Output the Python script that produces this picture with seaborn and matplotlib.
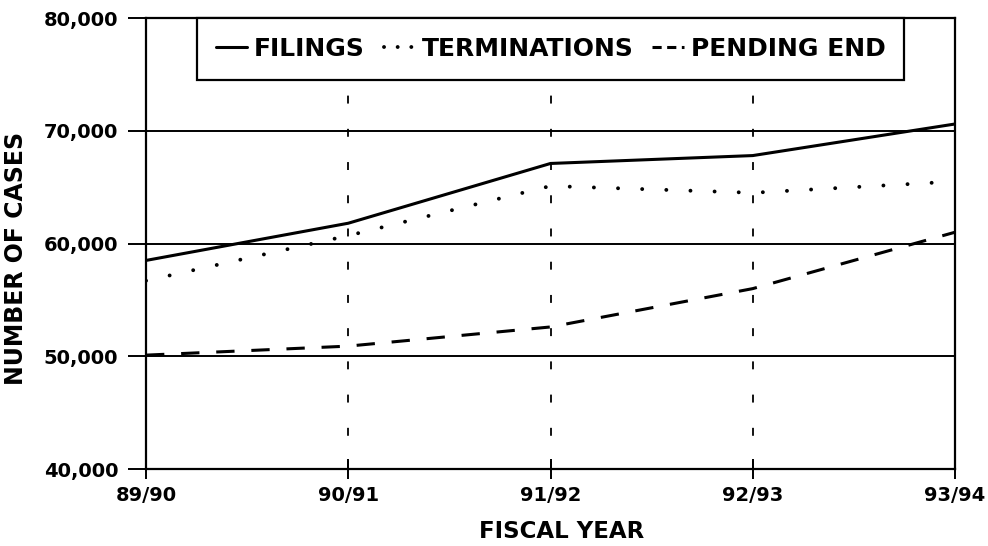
import matplotlib
matplotlib.use("Agg")
import matplotlib.pyplot as plt
import seaborn as sns
import pandas as pd
from matplotlib.lines import Line2D

years = ["89/90", "90/91", "91/92", "92/93", "93/94"]
filings = [58500, 61800, 67100, 67800, 70600]
terminations = [56700, 60700, 65100, 64500, 65500]
pending_end = [50100, 50900, 52600, 56000, 61000]

series_names = ["FILINGS", "TERMINATIONS", "PENDING END"]
yticks = [40000, 50000, 60000, 70000, 80000]

rows = []
for name, vals in zip(series_names, [filings, terminations, pending_end]):
    for i, (yr, v) in enumerate(zip(years, vals)):
        rows.append({"x": i, "year": yr, "cases": v, "series": name})
df = pd.DataFrame(rows)

sns.set_theme(style="white")
plt.rcParams['font.family'] = ['DejaVu Sans']
plt.rcParams['font.weight'] = 'bold'
plt.rcParams['text.color'] = 'black'
plt.rcParams['axes.labelcolor'] = 'black'
plt.rcParams['xtick.color'] = 'black'
plt.rcParams['ytick.color'] = 'black'

fig = plt.figure(figsize=(9.88, 5.46), dpi=100)
ax = fig.add_axes([0.1478, 0.141, 0.8188, 0.826])

dash_map = {"FILINGS": "", "TERMINATIONS": (0.01, 6.2), "PENDING END": (6, 5.5)}
sns.lineplot(data=df, x="x", y="cases", hue="series", style="series",
             palette={n: "black" for n in series_names}, dashes=dash_map,
             linewidth=2.2, legend=False, ax=ax)
lines = ax.get_lines()
for l, name in zip(lines, series_names):
    if name == "TERMINATIONS":
        l.set_linewidth(2.8)
        l.set_dash_capstyle('round')

ax.set_xlim(0, 4)
ax.set_ylim(40000, 80000)
ax.set_xticks(range(len(years)))
ax.set_xticklabels(years, fontsize=14, fontweight='bold')
ax.set_yticks(yticks)
ax.set_yticklabels([f"{v:,}" for v in yticks], fontsize=14, fontweight='bold')

for v in yticks[1:-1]:
    ax.axhline(v, color='black', linewidth=1.4, zorder=0)
for i in range(1, len(years) - 1):
    ax.axvline(i, color='black', linewidth=1.3, linestyle=(0, (4.4, 14)), zorder=0)

for s in ax.spines.values():
    s.set_color('black')
    s.set_linewidth(1.6)

ax.tick_params(axis='y', direction='out', length=13, width=1.4, color='black', pad=7, left=True)
ax.tick_params(axis='x', direction='inout', length=15, width=1.4, color='black', pad=5, bottom=True)
ax.set_xlabel("FISCAL YEAR", fontsize=16.5, fontweight='bold')
ax.set_ylabel("NUMBER OF CASES", fontsize=17, fontweight='bold')
ax.xaxis.set_label_coords(0.514, -0.113)
ax.yaxis.set_label_coords(-0.146, 0.466)

handles = [
    Line2D([], [], color='black', linewidth=2.2, linestyle='-'),
    Line2D([], [], color='black', linewidth=2.8, linestyle=(0, (0.01, 3.5)), dash_capstyle='round'),
    Line2D([], [], color='black', linewidth=2.2, linestyle=(0, (3, 1.8))),
]
leg = ax.legend(handles, series_names, ncol=3, loc='upper left',
                bbox_to_anchor=(0.063, 1.0),
                frameon=True, fancybox=False,
                edgecolor='black', framealpha=1, borderaxespad=0,
                handlelength=1.25, handletextpad=0.28, columnspacing=0.75,
                prop={'weight': 'bold', 'size': 18}, borderpad=0.75)
leg.get_frame().set_linewidth(1.6)
for t in leg.get_texts():
    t.set_color('black')

fig.savefig("out.png", dpi=100)
